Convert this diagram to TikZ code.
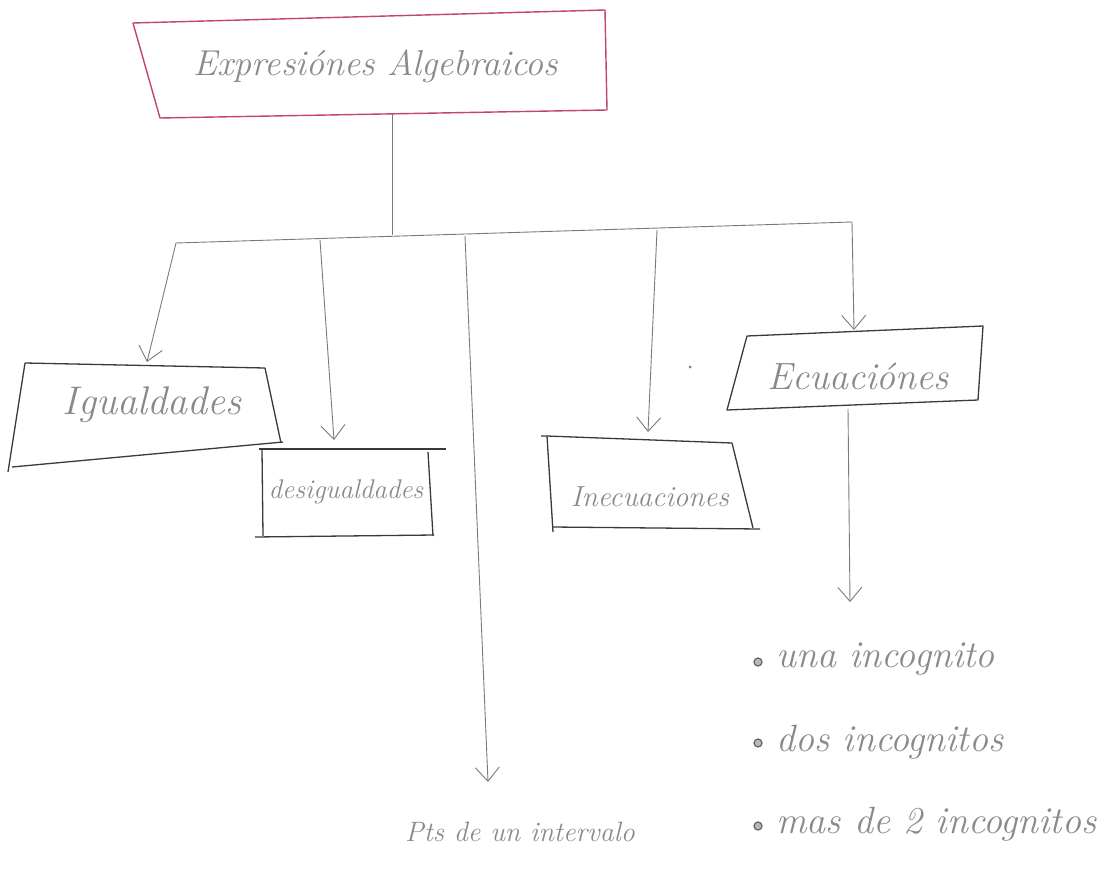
\documentclass[tikz,border=0pt]{standalone}
\usetikzlibrary{arrows.meta}
\definecolor{pencil}{HTML}{7A7A7A}
\definecolor{ink}{HTML}{8A8A8A}
\definecolor{boxline}{HTML}{3A3A3A}
\definecolor{rose}{HTML}{C2456E}
\tikzset{
  conn/.style={draw=pencil, line width=0.9pt},
  arr/.style={conn, -{Straight Barb[length=14pt,width=24pt,line width=0.9pt]}},
  frame/.style={draw=boxline, line width=1.3pt, line join=round},
  titleframe/.style={draw=rose, line width=1.4pt, line join=round},
  lbl/.style={text=ink, font=\itshape\fontsize{#1}{#1}\selectfont, inner sep=0pt},
  lbl/.default=30,
  dotmark/.style={circle, draw=ink!70!black, line width=1.2pt, fill=ink!60, inner sep=0pt, minimum size=8pt},
}
\begin{document}
\begin{tikzpicture}[x=1pt, y=-1pt]
\useasboundingbox (0,0) rectangle (1110,869);
\fill[white] (0,0) rectangle (1110,869);

% title frame
\draw[titleframe] (133,23) -- (605,10) -- (607,110) -- (160,118) -- cycle;
\node[lbl=36] (title) at (376,66) {Expresiónes Algebraicos};

% frames of the four categories
\draw[frame] (25,363) -- (265,368) -- (281,443);
\draw[frame] (8,472) -- (25,363);
\draw[frame] (12,467) -- (283,442);
\node[lbl=40] (igual) at (152,405) {Igualdades};

\draw[frame] (259,449) -- (446,449);
\draw[frame] (262,450) -- (263,536);
\draw[frame] (428,452) -- (433,536);
\draw[frame] (255,537) -- (434,535);
\node[lbl=27] (desig) at (346,492) {desigualdades};

\draw[frame] (541,436) -- (547,436) -- (732,443) -- (753,528);
\draw[frame] (547,436) -- (553,532);
\draw[frame] (552,527) -- (760,529);
\node[lbl=29] (inec) at (650,497) {Inecuaciones};

\draw[frame] (747,336) -- (983,326) -- (978,400) -- (727,410) -- cycle;
\node[lbl=38] (ecua) at (858,376) {Ecuaciónes};

% branching bar
\coordinate (t0) at (392,113);
\coordinate (j0) at (392,235);
\coordinate (jL) at (176,243);
\coordinate (jR) at (852,222);
\coordinate (j2) at (320,240);
\coordinate (j3) at (465,236);
\coordinate (j4) at (657,230);
\coordinate (e0) at (848,409);

\draw[conn] (t0) -- (j0);
\draw[conn] (jL) -- (jR);

\coordinate (a1) at (147,362);
\coordinate (a2) at (334,440);
\coordinate (a3) at (488,782);
\coordinate (a4) at (648,432);
\coordinate (a5) at (854,330);
\coordinate (a6) at (850,602);

\draw[arr] (jL) -- (a1);
\draw[arr] (j2) -- (a2);
\draw[arr] (j3) -- (a3);
\draw[arr] (j4) -- (a4);
\draw[arr] (jR) -- (a5);
\draw[arr] (e0) -- (a6);

% end labels
\node[lbl=28] (pts) at (520,832) {Pts de un intervalo};

\node[dotmark] (b1) at (758,662) {};
\node[lbl=38, anchor=west] (l1) at (776,659) {una incognito};
\node[dotmark] (b2) at (758,743) {};
\node[lbl=38, anchor=west] (l2) at (776,742) {dos incognitos};
\node[dotmark] (b3) at (758,826) {};
\node[lbl=38, anchor=west] (l3) at (776,824) {mas de 2 incognitos};

% stray pencil dot
\fill[pencil] (690,367) circle (1.5pt);
\end{tikzpicture}
\end{document}
